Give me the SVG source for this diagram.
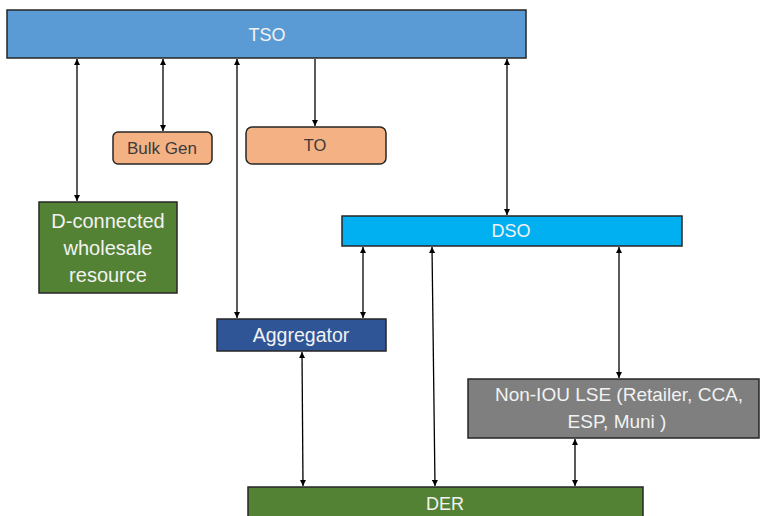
<svg xmlns="http://www.w3.org/2000/svg" width="760" height="516" viewBox="0 0 760 516">
<defs>
<marker id="ah" viewBox="0 0 10 10" refX="10" refY="5" markerWidth="6" markerHeight="6" orient="auto-start-reverse" markerUnits="userSpaceOnUse">
<path d="M0,0 L10,5 L0,10 z" fill="#000"/>
</marker>
<style>
.box{stroke:#262626;stroke-width:1.5}
.t{font-family:"Liberation Sans",Arial,sans-serif;text-anchor:middle;fill:#f2f2f2}
.d{fill:#3b3b3b}
.c{stroke:#000;stroke-width:1.3;fill:none}
.b{marker-start:url(#ah);marker-end:url(#ah)}
.e{marker-end:url(#ah)}
</style>
</defs>
<rect width="760" height="516" fill="#fff"/>
<g id="connectors">
<line class="c b" x1="77" y1="59" x2="77" y2="201"/>
<line class="c b" x1="163" y1="59" x2="163" y2="131"/>
<line class="c b" x1="237" y1="59" x2="237" y2="318"/>
<line class="c e" x1="315" y1="59" x2="315" y2="126"/>
<line class="c b" x1="507" y1="59" x2="507" y2="215"/>
<line class="c b" x1="363" y1="247" x2="363" y2="318"/>
<line class="c b" x1="432" y1="247" x2="435" y2="486"/>
<line class="c b" x1="619" y1="247" x2="619" y2="378"/>
<line class="c b" x1="302" y1="352" x2="303" y2="486"/>
<line class="c b" x1="575" y1="439" x2="575" y2="486"/>
</g>
<g id="tso">
<rect class="box" x="7" y="10" width="519" height="48" fill="#5b9bd5"/>
<text class="t" x="267" y="41" font-size="18">TSO</text>
</g>
<g id="bulkgen">
<rect class="box" x="113" y="132" width="99" height="32" rx="5" fill="#f4b183"/>
<text class="t d" x="162" y="154" font-size="17">Bulk Gen</text>
</g>
<g id="to">
<rect class="box" x="246" y="127" width="140" height="37" rx="6" fill="#f4b183"/>
<text class="t d" x="315" y="151" font-size="16.5">TO</text>
</g>
<g id="dconnected">
<rect class="box" x="39" y="202" width="138" height="91" fill="#548235"/>
<text class="t" x="108" y="228" font-size="20">D-connected</text>
<text class="t" x="108" y="255" font-size="20">wholesale</text>
<text class="t" x="108" y="282" font-size="20">resource</text>
</g>
<g id="dso">
<rect class="box" x="342" y="216" width="340" height="30" fill="#00b0f0"/>
<text class="t" x="511" y="237" font-size="18">DSO</text>
</g>
<g id="aggregator">
<rect class="box" x="217" y="319" width="169" height="32" fill="#2f5597"/>
<text class="t" x="301" y="342" font-size="19.5">Aggregator</text>
</g>
<g id="noniou">
<rect class="box" x="468" y="379" width="291" height="59" fill="#7f7f7f"/>
<text class="t" x="619" y="401" font-size="19">Non-IOU LSE (Retailer, CCA,</text>
<text class="t" x="617" y="428" font-size="19">ESP, Muni )</text>
</g>
<g id="der">
<rect class="box" x="248" y="487" width="395" height="40" fill="#548235"/>
<text class="t" x="445" y="510" font-size="18">DER</text>
</g>
</svg>
